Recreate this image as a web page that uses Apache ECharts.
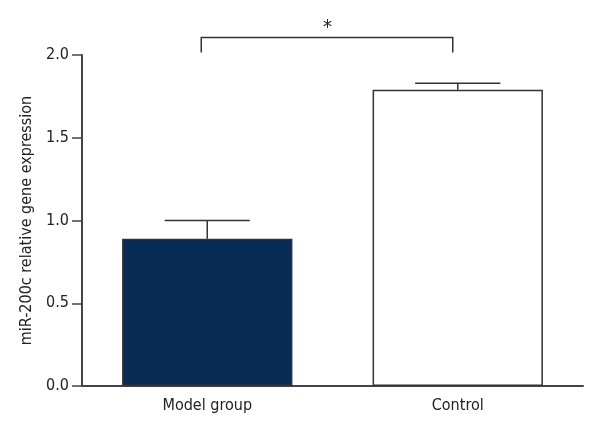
<!DOCTYPE html>
<html lang="en">
<head>
    <meta charset="UTF-8">
    <title>miR-200c</title>
    <script src="https://cdn.jsdelivr.net/npm/echarts@6/dist/echarts.min.js"></script>
</head>
<body style="margin:0;background:#fff;">
    <div id="chart" style="width:600px;height:440px;"></div>
    <script type="text/javascript">
        var groups = ['Model group', 'Control'];
        var means = [0.89, 1.79];
        var errHigh = [1.0, 1.83];
        var barColors = ['#082c56', '#ffffff'];
        var yTicks = ['0.0', '0.5', '1.0', '1.5', '2.0'];
        // significance bracket: from group 0 to group 1, at these y values
        var bracketTop = 2.105;
        var bracketLeg = 2.015;
        var starY = 2.2;
        var fontFam = "'Liberation Sans Narrow', 'DejaVu Sans Condensed', sans-serif";

        var chart = echarts.init(document.getElementById('chart'));

        chart.setOption({
            animation: false,
            grid: { left: 82, right: 17, top: 55, bottom: 54 },
            xAxis: {
                type: 'category',
                data: groups,
                axisLine: { lineStyle: { color: '#444', width: 2 } },
                axisTick: { alignWithLabel: true, length: 10, lineStyle: { color: '#444', width: 1.5 } },
                axisLabel: { color: '#222', fontSize: 16, fontFamily: fontFam, margin: 12 }
            },
            yAxis: {
                type: 'value',
                min: 0,
                max: 2,
                interval: 0.5,
                name: 'miR-200c relative gene expression',
                nameLocation: 'middle',
                nameGap: 44,
                nameTextStyle: { color: '#222', fontSize: 16, fontFamily: fontFam },
                axisLine: { show: true, lineStyle: { color: '#444', width: 2 } },
                axisTick: { show: true, length: 10, lineStyle: { color: '#444', width: 1.5 } },
                splitLine: { show: false },
                axisLabel: {
                    color: '#222', fontSize: 16, fontFamily: fontFam, margin: 13,
                    formatter: function (v) { return yTicks[Math.round(v / 0.5)]; }
                }
            },
            series: [
                {
                    type: 'bar',
                    barWidth: '68%',
                    data: means.map(function (v, i) {
                        return { value: v, itemStyle: { color: barColors[i] } };
                    }),
                    itemStyle: { borderColor: '#333', borderWidth: 1.5 }
                },
                {
                    type: 'custom',
                    data: means.map(function (v, i) { return [i, v, errHigh[i]]; }),
                    renderItem: function (params, api) {
                        var lo = api.coord([api.value(0), api.value(1)]);
                        var hi = api.coord([api.value(0), api.value(2)]);
                        var half = api.size([1, 0])[0] * 0.68 / 4;
                        var st = { stroke: '#333', lineWidth: 1.5 };
                        return {
                            type: 'group',
                            children: [
                                { type: 'line', shape: { x1: lo[0], y1: lo[1], x2: hi[0], y2: hi[1] }, style: st },
                                { type: 'line', shape: { x1: hi[0] - half, y1: hi[1], x2: hi[0] + half, y2: hi[1] }, style: st }
                            ]
                        };
                    },
                    z: 3
                },
                {
                    type: 'custom',
                    data: [[0, 1]],
                    renderItem: function (params, api) {
                        var a = api.coord([api.value(0), bracketLeg]);
                        var b = api.coord([api.value(0), bracketTop]);
                        var c = api.coord([api.value(1), bracketTop]);
                        var d = api.coord([api.value(1), bracketLeg]);
                        var s = api.coord([api.value(0), starY]);
                        var midX = (a[0] + d[0]) / 2 - 5;
                        return {
                            type: 'group',
                            children: [
                                {
                                    type: 'polyline',
                                    shape: { points: [[a[0] - 6, a[1]], [b[0] - 6, b[1]], [c[0] - 5, c[1]], [d[0] - 5, d[1]]] },
                                    style: { stroke: '#333', lineWidth: 1.5, fill: null }
                                },
                                {
                                    type: 'text',
                                    style: { x: midX, y: s[1] + 6, text: '*', fill: '#222', fontSize: 20, fontFamily: fontFam, align: 'center', verticalAlign: 'middle' }
                                }
                            ]
                        };
                    },
                    z: 3
                }
            ]
        });
    </script>
</body>
</html>
